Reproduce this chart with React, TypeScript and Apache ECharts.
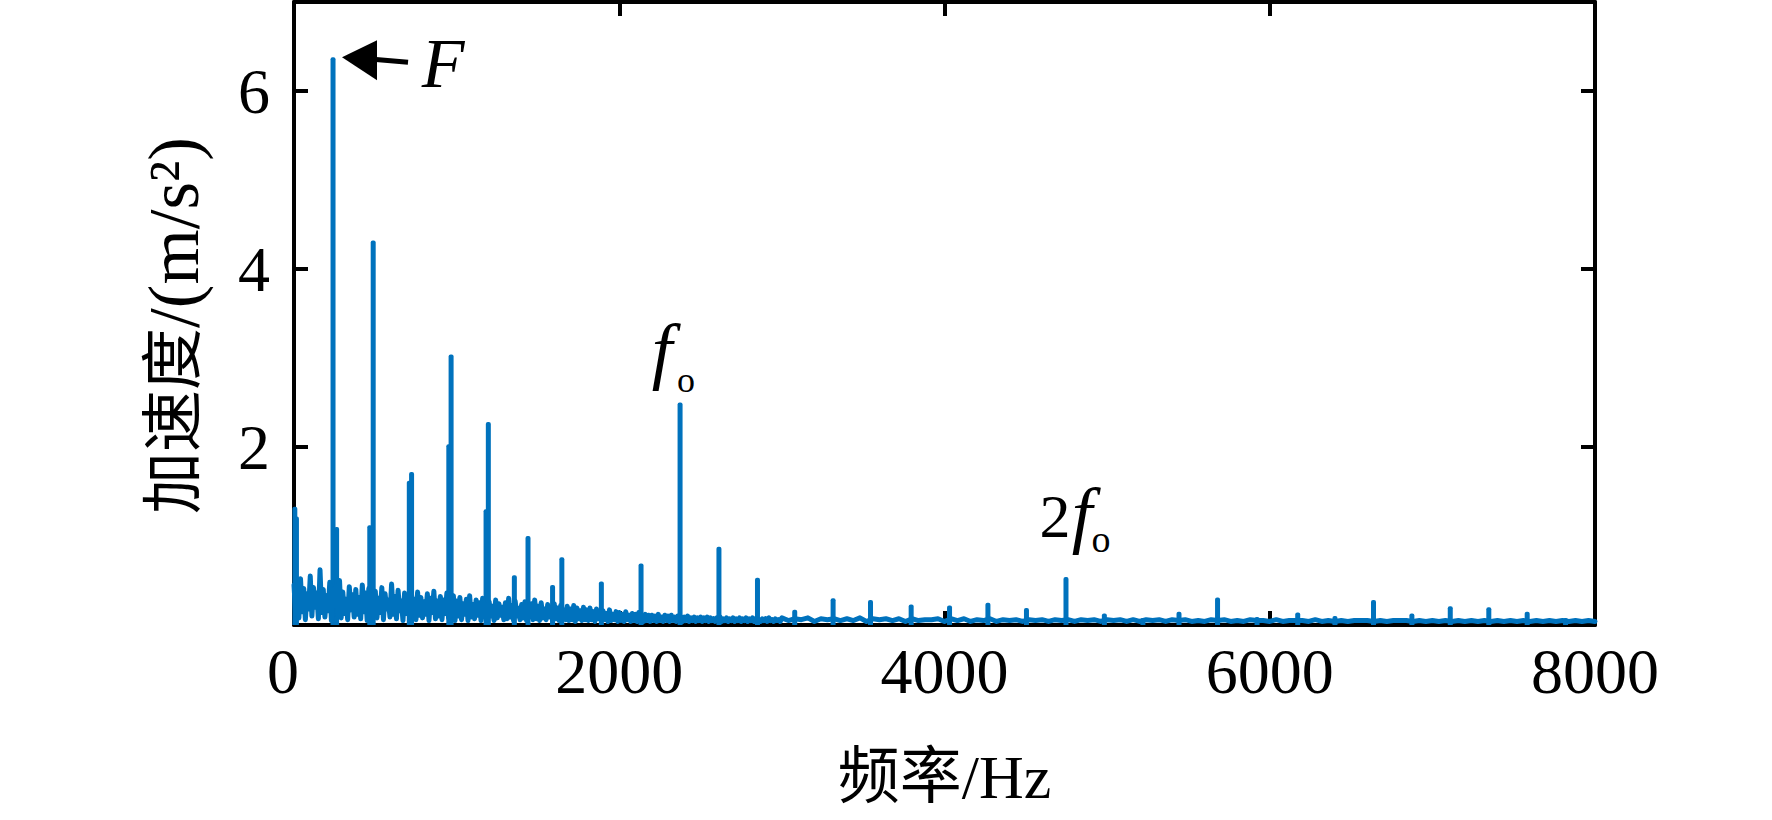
import React, { useEffect, useRef } from "react";
import * as echarts from "echarts";

// ---- data ----
const xMin = 0;
const xMax = 8000;
const xInterval = 2000;
const yMin = 0;
const yMax = 7;
const yInterval = 2;
const yLabelValues = [2, 4, 6];

// broadband noise floor 0..2990 Hz, every 10 Hz
const lowStart = 0;
const lowStep = 10;
const noiseLow = [
  0.45, 0.12, 0.38, 0.08, 0.52, 0.15, 0.41, 0.06, 0.35, 0.18,
  0.55, 0.10, 0.42, 0.20, 0.36, 0.07, 0.62, 0.14, 0.40, 0.09,
  0.33, 0.16, 0.48, 0.05, 0.39, 0.22, 0.44, 0.11, 0.50, 0.08,
  0.37, 0.13, 0.29, 0.06, 0.43, 0.17, 0.34, 0.09, 0.40, 0.12,
  0.31, 0.07, 0.45, 0.15, 0.36, 0.05, 0.41, 0.19, 0.33, 0.10,
  0.38, 0.08, 0.30, 0.14, 0.42, 0.06, 0.35, 0.18, 0.28, 0.09,
  0.46, 0.12, 0.32, 0.07, 0.39, 0.16, 0.27, 0.05, 0.36, 0.13,
  0.34, 0.09, 0.41, 0.15, 0.29, 0.06, 0.37, 0.11, 0.31, 0.08,
  0.26, 0.12, 0.35, 0.05, 0.30, 0.14, 0.38, 0.07, 0.27, 0.10,
  0.32, 0.06, 0.28, 0.13, 0.36, 0.08, 0.25, 0.11, 0.33, 0.05,
  0.27, 0.10, 0.31, 0.06, 0.24, 0.12, 0.29, 0.05, 0.33, 0.09,
  0.23, 0.07, 0.28, 0.11, 0.25, 0.05, 0.30, 0.09, 0.22, 0.06,
  0.26, 0.10, 0.21, 0.05, 0.28, 0.08, 0.24, 0.11, 0.20, 0.06,
  0.25, 0.07, 0.30, 0.09, 0.22, 0.05, 0.27, 0.10, 0.19, 0.06,
  0.23, 0.08, 0.26, 0.05, 0.20, 0.09, 0.24, 0.06, 0.28, 0.07,
  0.21, 0.05, 0.25, 0.08, 0.18, 0.06, 0.23, 0.09, 0.20, 0.05,
  0.24, 0.07, 0.19, 0.05, 0.22, 0.08, 0.17, 0.06, 0.21, 0.05,
  0.18, 0.06, 0.22, 0.04, 0.19, 0.07, 0.16, 0.05, 0.20, 0.06,
  0.17, 0.05, 0.19, 0.06, 0.15, 0.04, 0.18, 0.07, 0.14, 0.05,
  0.16, 0.06, 0.13, 0.04, 0.17, 0.05, 0.12, 0.06, 0.15, 0.04,
  0.14, 0.05, 0.12, 0.04, 0.15, 0.06, 0.11, 0.04, 0.13, 0.05,
  0.12, 0.04, 0.14, 0.05, 0.10, 0.04, 0.12, 0.05, 0.11, 0.04,
  0.11, 0.05, 0.10, 0.04, 0.12, 0.05, 0.09, 0.04, 0.11, 0.05,
  0.10, 0.04, 0.11, 0.05, 0.09, 0.04, 0.10, 0.05, 0.09, 0.04,
  0.09, 0.05, 0.10, 0.04, 0.08, 0.05, 0.09, 0.04, 0.08, 0.05,
  0.09, 0.04, 0.08, 0.05, 0.09, 0.04, 0.08, 0.05, 0.07, 0.04,
  0.08, 0.05, 0.09, 0.04, 0.07, 0.05, 0.08, 0.04, 0.07, 0.05,
  0.08, 0.04, 0.07, 0.05, 0.08, 0.04, 0.07, 0.05, 0.08, 0.04,
  0.07, 0.05, 0.08, 0.04, 0.07, 0.05, 0.06, 0.04, 0.07, 0.05,
  0.07, 0.04, 0.08, 0.05, 0.06, 0.04, 0.07, 0.05, 0.06, 0.04,
];

// noise floor 3000..8000 Hz, every 40 Hz
const highStart = 3000;
const highStep = 40;
const noiseHigh = [
  0.08, 0.05, 0.07, 0.06, 0.08, 0.04, 0.07, 0.06, 0.07, 0.05,
  0.07, 0.05, 0.08, 0.04, 0.07, 0.06, 0.07, 0.05, 0.07, 0.04,
  0.07, 0.05, 0.06, 0.06, 0.07, 0.04, 0.07, 0.05, 0.07, 0.04,
  0.06, 0.05, 0.07, 0.04, 0.06, 0.05, 0.06, 0.04, 0.06, 0.05,
  0.06, 0.04, 0.06, 0.05, 0.06, 0.04, 0.06, 0.05, 0.06, 0.04,
  0.06, 0.05, 0.06, 0.04, 0.06, 0.04, 0.06, 0.05, 0.06, 0.04,
  0.06, 0.05, 0.06, 0.04, 0.05, 0.04, 0.06, 0.05, 0.06, 0.04,
  0.05, 0.04, 0.06, 0.05, 0.05, 0.04, 0.06, 0.04, 0.05, 0.05,
  0.05, 0.04, 0.06, 0.04, 0.05, 0.04, 0.05, 0.04, 0.05, 0.05,
  0.05, 0.04, 0.05, 0.04, 0.05, 0.05, 0.05, 0.04, 0.05, 0.04,
  0.05, 0.04, 0.05, 0.04, 0.05, 0.04, 0.05, 0.04, 0.05, 0.04,
  0.05, 0.04, 0.05, 0.04, 0.05, 0.04, 0.05, 0.04, 0.05, 0.04,
  0.05, 0.04, 0.05, 0.04, 0.05, 0.04,
];

// discrete spectral lines
const spikeFreq = [
  5, 15, 240, 262, 466, 487, 709, 723, 952, 966, 1181, 1195, 1355, 1439, 1590, 1647, 1890, 2134,
  2374, 2613, 2850, 3079, 3315, 3545, 3795, 4031, 4267, 4504, 4747, 4983, 5220, 5442, 5679, 5922,
  6172, 6401, 6638, 6874, 7110, 7347, 7583, 7819,
];
const spikeAmp = [
  1.33, 1.22, 6.38, 1.10, 1.12, 4.32, 1.62, 1.72, 2.03, 3.04, 1.30, 2.28, 0.56, 1.00, 0.45, 0.76, 0.49, 0.69,
  2.50, 0.88, 0.53, 0.17, 0.30, 0.28, 0.23, 0.22, 0.25, 0.19, 0.54, 0.13, 0.08, 0.15, 0.31, 0.09,
  0.14, 0.10, 0.28, 0.13, 0.21, 0.20, 0.15, 0.08,
];

const xTitle = "频率/Hz";
const yTitleCjk = "加速度";
const yTitleUnit = "/(m/s²)";

// annotation anchors (data coordinates of the peaks they point to)
const peakF = [240, 6.38];
const peakFo = [2374, 2.5];
const peak2Fo = [4747, 0.54];

const FONT = "'Liberation Serif', 'Times New Roman', 'Noto Sans CJK SC', serif";
const LINE_COLOR = "#0072BD";

function buildNoise(): number[][] {
  const pts: number[][] = [];
  noiseLow.forEach((v, i) => pts.push([lowStart + i * lowStep, v]));
  noiseHigh.forEach((v, i) => pts.push([highStart + i * highStep, v]));
  return pts;
}

function buildSpikes(): number[][] {
  return spikeFreq.map((f, i) => [f, spikeAmp[i]]);
}

export default function App() {
  const ref = useRef<HTMLDivElement>(null);

  useEffect(() => {
    document.body.style.margin = "0";
    if (!ref.current) return;
    const chart = echarts.init(ref.current, undefined, { renderer: "svg" });

    const axisLine = { show: true, onZero: false, lineStyle: { color: "#000", width: 4 } };
    const axisTick = { show: true, inside: true, length: 14, lineStyle: { color: "#000", width: 4 } };

    chart.setOption({
      animation: false,
      backgroundColor: "#fff",
      grid: { left: 294, right: 177, top: 2, bottom: 195, containLabel: false },
      xAxis: [
        {
          type: "value",
          min: xMin,
          max: xMax,
          interval: xInterval,
          position: "bottom",
          axisLine,
          axisTick,
          splitLine: { show: false },
          axisLabel: {
            fontSize: 64,
            fontFamily: FONT,
            color: "#000",
            margin: 14,
            formatter: (v: number) => (v === 0 ? "{z|0}" : String(v)),
            rich: { z: { fontSize: 64, fontFamily: FONT, color: "#000", padding: [0, 22, 0, 0] } },
          },
          name: xTitle,
          nameLocation: "middle",
          nameGap: 121,
          nameTextStyle: { fontSize: 62, fontFamily: FONT, color: "#000" },
        },
        {
          type: "value",
          min: xMin,
          max: xMax,
          interval: xInterval,
          position: "top",
          axisLine,
          axisTick,
          splitLine: { show: false },
          axisLabel: { show: false },
        },
      ],
      yAxis: [
        {
          type: "value",
          min: yMin,
          max: yMax,
          interval: yInterval,
          position: "left",
          axisLine,
          axisTick,
          splitLine: { show: false },
          axisLabel: {
            fontSize: 64,
            fontFamily: FONT,
            color: "#000",
            margin: 24,
            formatter: (v: number) => (yLabelValues.includes(v) ? String(v) : ""),
          },
          name: `{c|${yTitleCjk}}{u|${yTitleUnit}}`,
          nameLocation: "middle",
          nameGap: 85,
          nameRotate: 90,
          nameTextStyle: {
            fontSize: 64,
            fontFamily: FONT,
            color: "#000",
            padding: [0, 24, 0, 0],
            rich: {
              c: { fontSize: 62, fontFamily: FONT, color: "#000" },
              u: { fontSize: 71, fontFamily: FONT, color: "#000" },
            },
          },
        },
        {
          type: "value",
          min: yMin,
          max: yMax,
          interval: yInterval,
          position: "right",
          axisLine,
          axisTick,
          splitLine: { show: false },
          axisLabel: { show: false },
        },
      ],
      series: [
        {
          name: "noise",
          type: "line",
          data: buildNoise(),
          showSymbol: false,
          symbol: "none",
          lineStyle: { color: LINE_COLOR, width: 5, join: "round", cap: "round" },
          itemStyle: { color: LINE_COLOR },
          z: 2,
        },
        {
          name: "lines",
          type: "bar",
          data: buildSpikes(),
          barWidth: 5,
          itemStyle: { color: LINE_COLOR, borderRadius: [2, 2, 0, 0] },
          z: 2,
        },
      ],
    });

    const px = (p: number[]) => chart.convertToPixel({ gridIndex: 0 }, p) as number[];
    const [fx, fy] = px(peakF);
    const [ox, oy] = px(peakFo);
    const [tx, ty] = px(peak2Fo);

    const txt = (text: string, x: number, y: number, size: number, style = "italic") => ({
      type: "text",
      x,
      y,
      style: {
        text,
        fontFamily: FONT,
        fontSize: size,
        fontStyle: style,
        fill: "#000",
        align: "center",
        verticalAlign: "middle",
      },
      z: 10,
    });

    chart.setOption({
      graphic: [
        {
          type: "polygon",
          shape: { points: [[fx + 9, fy], [fx + 44, fy - 17], [fx + 44, fy + 23]] },
          style: { fill: "#000" },
          z: 10,
        },
        {
          type: "line",
          shape: { x1: fx + 40, y1: fy + 2, x2: fx + 75, y2: fy + 5 },
          style: { stroke: "#000", lineWidth: 5 },
          z: 10,
        },
        txt("F", fx + 110, fy + 6, 70),
        txt("f", ox - 18, oy - 53, 74),
        txt("o", ox + 6, oy - 23, 36, "normal"),
        txt("2", tx - 11, ty - 61, 62, "normal"),
        txt("f", tx + 16, ty - 63, 74),
        txt("o", tx + 35, ty - 38, 38, "normal"),
      ],
    });

    return () => chart.dispose();
  }, []);

  return <div ref={ref} style={{ width: 1772, height: 820 }} />;
}
